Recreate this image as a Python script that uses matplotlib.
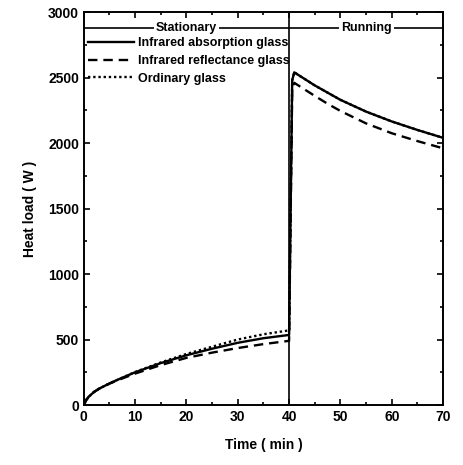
import matplotlib
matplotlib.use("Agg")
import matplotlib.pyplot as plt
import numpy as np
from matplotlib.ticker import MultipleLocator

plt.rcParams['font.family'] = ['Liberation Sans', 'DejaVu Sans']
plt.rcParams['font.weight'] = 'bold'

# Stationary phase (0-40 min)
t_stat = [0, 0.5, 1, 2, 3, 5, 7, 10, 15, 20, 25, 30, 35, 40]
abs_stat = [0, 40, 65, 100, 125, 165, 200, 250, 320, 380, 430, 475, 510, 535]
ref_stat = [0, 40, 65, 100, 125, 163, 195, 240, 305, 360, 400, 435, 465, 490]
ord_stat = [0, 40, 65, 100, 125, 165, 200, 252, 325, 390, 445, 500, 540, 570]

# Running phase (40-70 min)
t_run = [40, 40.6, 41, 43, 45, 47.5, 50, 55, 60, 65, 70]
abs_run = [535, 2480, 2540, 2490, 2440, 2385, 2330, 2240, 2165, 2100, 2040]
ref_run = [490, 2400, 2460, 2410, 2360, 2300, 2245, 2150, 2075, 2015, 1960]
ord_run = [570, 2480, 2540, 2490, 2440, 2385, 2330, 2240, 2165, 2100, 2040]

labels = ["Infrared absorption glass", "Infrared reflectance glass", "Ordinary glass"]

fig = plt.figure(figsize=(4.63, 4.65), dpi=100)
ax = fig.add_axes([0.181, 0.129, 0.776, 0.845])

ax.plot(t_stat + t_run[1:], abs_stat + abs_run[1:], color='black', lw=1.7, ls='-', label=labels[0])
ax.plot(t_stat + t_run[1:], ref_stat + ref_run[1:], color='black', lw=1.7, ls=(0, (4, 2.5)), label=labels[1])
ax.plot(t_stat, ord_stat, color='black', lw=1.7, ls=(0, (1, 1.2)), label=labels[2])
ax.plot(t_run, ord_run, color='black', lw=1.7, ls=(0, (1, 1.2)))

ax.axvline(40, color='black', lw=1.2)
ax.axhline(2880, color='black', lw=1.2)
ax.text(20, 2880, "Stationary", ha='center', va='center', fontsize=9, fontweight='bold',
        bbox=dict(facecolor='white', edgecolor='none', pad=1.5))
ax.text(55, 2880, "Running", ha='center', va='center', fontsize=9, fontweight='bold',
        bbox=dict(facecolor='white', edgecolor='none', pad=1.5))

ax.set_xlim(0, 70)
ax.set_ylim(0, 3000)
ax.xaxis.set_major_locator(MultipleLocator(10))
ax.xaxis.set_minor_locator(MultipleLocator(5))
ax.yaxis.set_major_locator(MultipleLocator(500))
ax.yaxis.set_minor_locator(MultipleLocator(250))
ax.tick_params(which='both', direction='in', top=True, right=True, width=1.2)
ax.tick_params(which='major', length=4, labelsize=10)
ax.tick_params(which='minor', length=2.5)
for s in ax.spines.values():
    s.set_linewidth(1.4)
for lab in ax.get_xticklabels() + ax.get_yticklabels():
    lab.set_fontweight('bold')

ax.set_xlabel("Time ( min )", fontsize=10, fontweight='bold', labelpad=10)
ax.set_ylabel("Heat load ( W )", fontsize=10, fontweight='bold', labelpad=8)

leg = ax.legend(loc='upper left', bbox_to_anchor=(-0.01, 0.955), frameon=False, fontsize=9,
                handlelength=3.7, handletextpad=0.3, labelspacing=0.45, borderaxespad=0.2)
for txt in leg.get_texts():
    txt.set_fontweight('bold')

fig.savefig("out.png", dpi=100)
